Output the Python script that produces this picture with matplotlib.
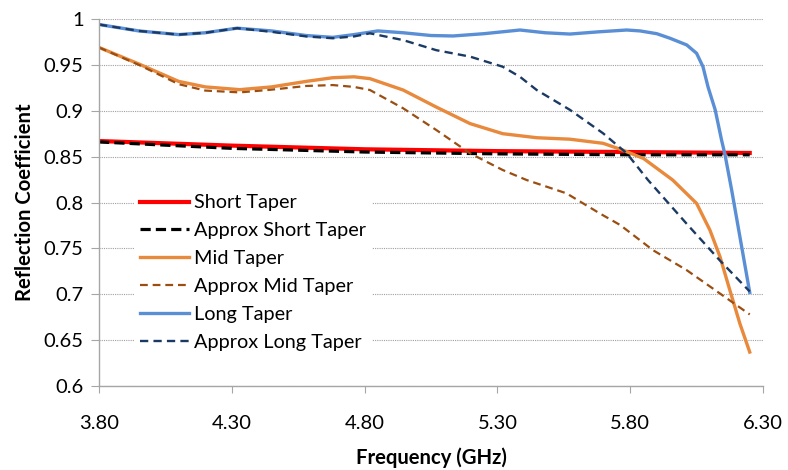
import matplotlib
matplotlib.use("Agg")
import matplotlib.pyplot as plt
from matplotlib.ticker import FixedLocator, FuncFormatter

# --- data ---
short_x = [3.80, 4.30, 4.80, 5.30, 5.80, 6.25]
short_y = [0.867, 0.862, 0.858, 0.856, 0.855, 0.854]
approx_short_x = [3.80, 4.30, 4.80, 5.30, 5.80, 6.25]
approx_short_y = [0.866, 0.859, 0.855, 0.853, 0.852, 0.852]

mid_x = [3.80, 3.95, 4.10, 4.20, 4.33, 4.45, 4.58, 4.68, 4.76, 4.82, 4.945, 5.07, 5.197,
         5.32, 5.448, 5.573, 5.698, 5.773, 5.85, 5.96, 6.05, 6.10, 6.138, 6.175, 6.213, 6.25]
mid_y = [0.969, 0.951, 0.932, 0.926, 0.923, 0.926, 0.932, 0.936, 0.937, 0.935, 0.9226, 0.904, 0.886,
         0.875, 0.8706, 0.869, 0.8645, 0.857, 0.848, 0.8245, 0.799, 0.770, 0.741, 0.7046, 0.668, 0.637]

approx_mid_x = [3.80, 3.95, 4.10, 4.20, 4.33, 4.45, 4.58, 4.68, 4.76, 4.82, 4.945, 5.07, 5.197,
                5.32, 5.41, 5.56, 5.686, 5.762, 5.886, 6.012, 6.137, 6.25]
approx_mid_y = [0.969, 0.950, 0.929, 0.922, 0.920, 0.923, 0.927, 0.928, 0.926, 0.9226, 0.9027, 0.879,
                0.8536, 0.8354, 0.8245, 0.810, 0.788, 0.7755, 0.748, 0.7264, 0.701, 0.678]

long_x = [3.80, 3.95, 4.10, 4.20, 4.32, 4.45, 4.58, 4.68, 4.76, 4.85, 4.945, 5.05, 5.133, 5.25,
          5.385, 5.48, 5.573, 5.68, 5.787, 5.837, 5.90, 5.95, 6.013, 6.05, 6.074, 6.093, 6.12,
          6.144, 6.157, 6.182, 6.25]
long_y = [0.994, 0.987, 0.983, 0.985, 0.990, 0.987, 0.982, 0.980, 0.983, 0.987, 0.985, 0.982, 0.9815,
          0.984, 0.988, 0.985, 0.9836, 0.986, 0.988, 0.987, 0.984, 0.979, 0.9717, 0.9626, 0.948, 0.926,
          0.901, 0.868, 0.852, 0.8136, 0.702]

approx_long_x = [3.80, 3.95, 4.10, 4.20, 4.32, 4.45, 4.58, 4.68, 4.76, 4.82, 4.945, 5.07, 5.197,
                 5.32, 5.385, 5.448, 5.573, 5.698, 5.787, 5.867, 6.012, 6.137, 6.25]
approx_long_y = [0.994, 0.987, 0.983, 0.985, 0.990, 0.986, 0.981, 0.979, 0.981, 0.9844, 0.977, 0.966,
                 0.959, 0.948, 0.937, 0.9226, 0.901, 0.8754, 0.8536, 0.8245, 0.777, 0.737, 0.703]

x_ticks = [3.80, 4.30, 4.80, 5.30, 5.80, 6.30]
y_ticks = [0.6, 0.65, 0.7, 0.75, 0.8, 0.85, 0.9, 0.95, 1.0]

series_labels = ["Short Taper", "Approx Short Taper", "Mid Taper",
                 "Approx Mid Taper", "Long Taper", "Approx Long Taper"]

FONT = ["Lato", "DejaVu Sans"]
plt.rcParams['font.family'] = FONT

W, H = 788, 470
fig = plt.figure(figsize=(W / 100, H / 100), dpi=100)
ax = fig.add_axes([99 / W, 1 - 386 / H, (763 - 99) / W, (386 - 19) / H])

common = dict(solid_joinstyle="round", dash_joinstyle="round")
ax.plot(short_x, short_y, color="#FF0000", lw=3.0, label=series_labels[0], **common)
ax.plot(approx_short_x, approx_short_y, color="#000000", lw=2.3, ls=(0, (3.2, 1.6)),
        label=series_labels[1], **common)
ax.plot(mid_x, mid_y, color="#E8893C", lw=2.4, label=series_labels[2], **common)
ax.plot(approx_mid_x, approx_mid_y, color="#9A4E12", lw=1.6, ls=(0, (3.5, 2.2)),
        label=series_labels[3], **common)
ax.plot(long_x, long_y, color="#5A8FD6", lw=2.4, label=series_labels[4], **common)
ax.plot(approx_long_x, approx_long_y, color="#1B3A63", lw=1.7, ls=(0, (3.5, 2.2)),
        label=series_labels[5], **common)

ax.set_xlim(3.80, 6.30)
ax.set_ylim(0.6, 1.0)
ax.xaxis.set_major_locator(FixedLocator(x_ticks))
ax.yaxis.set_major_locator(FixedLocator(y_ticks))
ax.xaxis.set_major_formatter(FuncFormatter(lambda v, p: f"{v:.2f}"))
ax.yaxis.set_major_formatter(FuncFormatter(lambda v, p: f"{v:g}"))

ax.grid(axis="y", color="#A0A0A0", ls=(0, (1, 1)), lw=0.8)
ax.set_axisbelow(True)
for s in ["top", "right"]:
    ax.spines[s].set_visible(False)
for s in ["left", "bottom"]:
    ax.spines[s].set_color("#A6A6A6")
    ax.spines[s].set_linewidth(1.0)
ax.tick_params(axis="x", direction="out", length=5, color="#A6A6A6", pad=16, labelsize=14.5,
               labelcolor="#000000")
ax.tick_params(axis="y", direction="out", length=6, color="#A6A6A6", pad=5, labelsize=14.5,
               labelcolor="#000000")

ax.set_xlabel("Frequency (GHz)", fontsize=14.6, fontweight="bold", labelpad=11)
ax.set_ylabel("Reflection Coefficient", fontsize=14.6, fontweight="bold", labelpad=6)

fs = 14.3
leg = ax.legend(loc="upper left", bbox_to_anchor=(134 / W, 1 - 188.5 / H),
                bbox_transform=fig.transFigure, borderaxespad=0, frameon=True, fontsize=fs,
                handlelength=2.47, handletextpad=0.25, labelspacing=0.545, borderpad=0.3)
leg.get_frame().set_edgecolor("none")
leg.get_frame().set_facecolor("white")
leg.get_frame().set_alpha(1.0)

fig.savefig("out.png", dpi=100)
